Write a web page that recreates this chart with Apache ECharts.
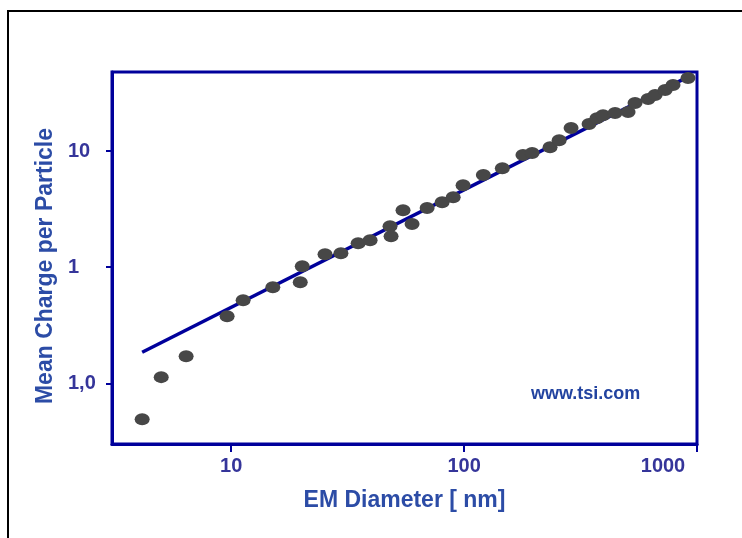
<!DOCTYPE html>
<html>
<head>
<meta charset="utf-8">
<script src="https://cdn.jsdelivr.net/npm/echarts@6/dist/echarts.min.js"></script>
<style>
html,body{margin:0;padding:0;background:#fff;}
#chart{width:742px;height:538px;}
</style>
</head>
<body>
<div id="chart"></div>
<script>
// EM diameter [nm] of the measured particles
const diameters = [4.15, 5.01, 6.41, 9.61, 11.26, 15.1, 20.2, 19.8, 25.3, 29.6, 35.1, 39.5, 48.1, 48.6, 54.7, 59.8, 69.4, 80.5, 89.8, 99.0, 121, 146, 179, 196, 234, 256, 288, 344, 372, 395, 445, 506, 542, 617, 661, 730, 789, 915];
// mean charge per particle
const charges = [0.049, 0.113, 0.171, 0.378, 0.519, 0.673, 1.02, 0.743, 1.29, 1.32, 1.61, 1.71, 2.25, 1.85, 3.10, 2.35, 3.23, 3.63, 4.01, 5.09, 6.21, 7.13, 9.24, 9.61, 10.8, 12.4, 15.8, 17.1, 19.2, 20.4, 21.3, 21.7, 25.9, 28.1, 30.4, 33.6, 37.1, 42.6];
// fitted line end points
const fitDiameters = [4.15, 933];
const fitCharges = [0.185, 44.4];
// tick labels
const xTickLabels = {1: '10', 2: '100', 3: '1000'};
const yTickLabels = {'-1': '1,0', 0: '1', 1: '10'};
const xName = 'EM Diameter [ nm]';
const yName = 'Mean Charge per Particle';
const credit = 'www.tsi.com';

const BLUE = '#00009b';
const LABEL = '#35359a';
const TITLE = '#2c4ca6';
const FONT = '"Liberation Sans", Arial, sans-serif';

const chart = echarts.init(document.getElementById('chart'), null, {renderer: 'canvas'});
chart.setOption({
  animation: false,
  backgroundColor: '#ffffff',
  grid: {left: 112, right: 45, top: 72, bottom: 94, show: true, borderColor: BLUE, borderWidth: 3},
  xAxis: {
    type: 'log', logBase: 10, min: 3.08, max: 1000,
    name: xName, nameLocation: 'middle', nameGap: 45,
    nameTextStyle: {color: TITLE, fontFamily: FONT, fontWeight: 'bold', fontSize: 23},
    axisLine: {lineStyle: {color: BLUE, width: 3}},
    axisTick: {show: true, length: 8, lineStyle: {color: BLUE, width: 2}},
    splitLine: {show: false},
    axisLabel: {
      showMinLabel: false,
      margin: 12,
      color: LABEL, fontFamily: FONT, fontWeight: 'bold', fontSize: 20,
      formatter: function (v) {
        const e = Math.round(Math.log10(v));
        const t = xTickLabels[e];
        if (!t) return '';
        return e === 3 ? '{s|' + t + '}' : t;
      },
      rich: {s: {color: LABEL, fontFamily: FONT, fontWeight: 'bold', fontSize: 20, padding: [0, 68, 0, 0]}}
    }
  },
  yAxis: {
    type: 'log', logBase: 10, min: 0.03, max: 48,
    name: yName, nameLocation: 'middle', nameGap: 52,
    nameTextStyle: {color: TITLE, fontFamily: FONT, fontWeight: 'bold', fontSize: 23, padding: [0, 16, 0, 0]},
    axisLine: {lineStyle: {color: BLUE, width: 3}},
    axisTick: {show: true, length: 6, lineStyle: {color: BLUE, width: 2}},
    splitLine: {show: false},
    axisLabel: {
      showMinLabel: false, showMaxLabel: false,
      margin: 44, align: 'left',
      color: LABEL, fontFamily: FONT, fontWeight: 'bold', fontSize: 20,
      formatter: function (v) {
        const e = Math.round(Math.log10(v));
        if (Math.abs(Math.log10(v) - e) > 0.01) return '';
        return yTickLabels[e] || '';
      }
    }
  },
  graphic: [
    {type: 'polyline', silent: true, shape: {points: [[8, 538], [8, 11], [742, 11]]}, style: {stroke: '#000', lineWidth: 2, fill: null}},
    {type: 'text', left: 531, top: 385, style: {text: credit, fill: '#2243a0', font: 'bold 18px ' + FONT}}
  ],
  series: [
    {
      type: 'line',
      data: fitDiameters.map((d, i) => [d, fitCharges[i]]),
      showSymbol: false, symbol: 'none',
      lineStyle: {color: BLUE, width: 3.5},
      z: 2
    },
    {
      type: 'scatter',
      data: diameters.map((d, i) => [d, charges[i]]),
      symbol: 'circle', symbolSize: [15, 12],
      itemStyle: {color: '#474747', opacity: 1},
      z: 3
    }
  ]
});
</script>
</body>
</html>
